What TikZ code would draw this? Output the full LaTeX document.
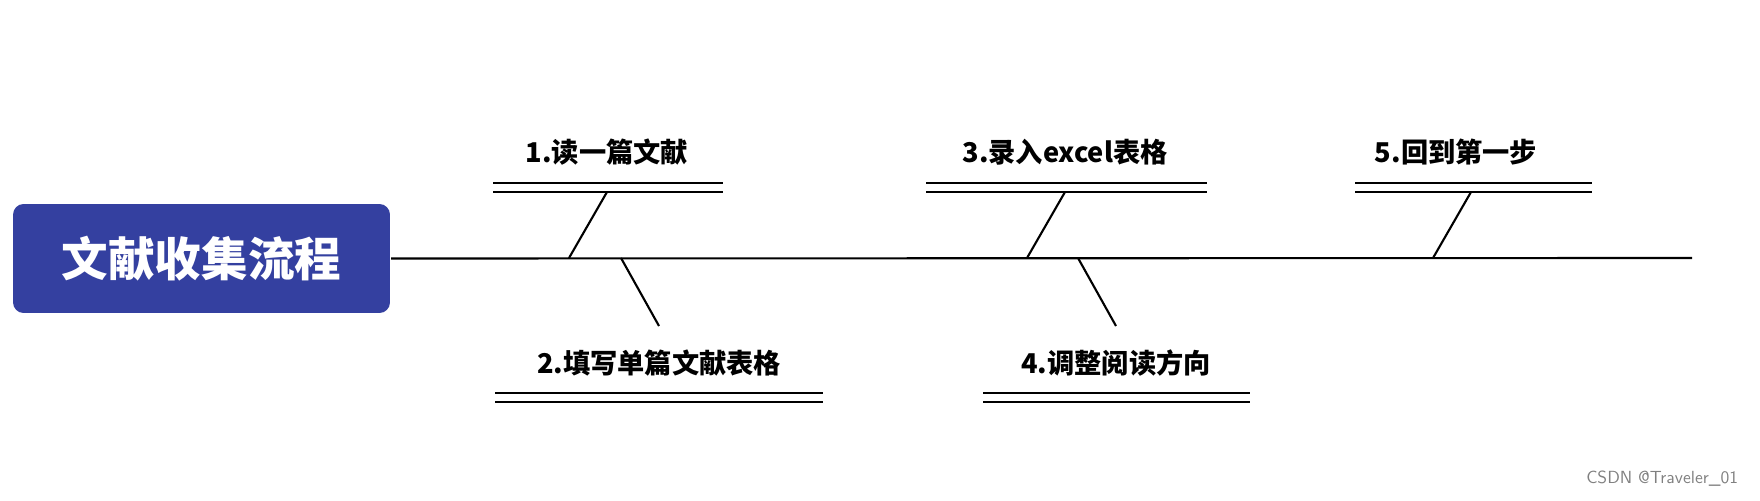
\documentclass[tikz,border=0pt]{standalone}
\usepackage{fontspec}
\newfontfamily\cjk{Noto Sans CJK SC}
\usetikzlibrary{positioning}

\begin{document}
\begin{tikzpicture}[x=0.02cm, y=-0.02cm, line width=1.2pt,
    steplabel/.style={font=\cjk\bfseries\fontsize{15.5}{18}\selectfont, inner sep=0pt},
    bar/.style={line width=1.2pt}]
\useasboundingbox (0,0) rectangle (1760,500);

% title box and spine
\node[fill={rgb,255:red,52;green,64;blue,160}, rounded corners=6pt, minimum width=7.54cm,
      minimum height=2.18cm, text=white, font=\cjk\bfseries\fontsize{26.5}{30}\selectfont]
      (title) at (201.5,258.5) {文献收集流程};
\coordinate (spine-end) at (1692,258);
\draw (title.east) -- (spine-end);

% steps: name / label x / bar from / bar to / top(-1) or bottom(1) / spine x
\foreach \n/\lx/\xa/\xb/\s/\jx/\txt in {
    one/607/493/723/-1/569/1.读一篇文献,
    two/659/495/823/1/621/2.填写单篇文献表格,
    three/1065/926/1207/-1/1027/3.录入excel表格,
    four/1116/983/1250/1/1078/4.调整阅读方向,
    five/1456/1355/1592/-1/1433/5.回到第一步} {
  \ifnum\s<0
    \node[steplabel] (\n) at (\lx,152) {\txt};
    \draw[bar] (\xa,183) -- (\xb,183);
    \draw[bar] (\xa,192) -- (\xb,192);
    \coordinate (\n-bar) at (\jx+38,192);
  \else
    \node[steplabel] (\n) at (\lx,363) {\txt};
    \draw[bar] (\xa,393) -- (\xb,393);
    \draw[bar] (\xa,402) -- (\xb,402);
    \coordinate (\n-bar) at (\jx+38,326);
  \fi
  \coordinate (\n-joint) at (\jx,258);
  \draw (\n-joint) -- (\n-bar);
}

\node[font=\sffamily\fontsize{10}{12}\selectfont, text=gray, anchor=east] (mark) at (1745,479) {CSDN @Traveler\_01};
\end{tikzpicture}
\end{document}
